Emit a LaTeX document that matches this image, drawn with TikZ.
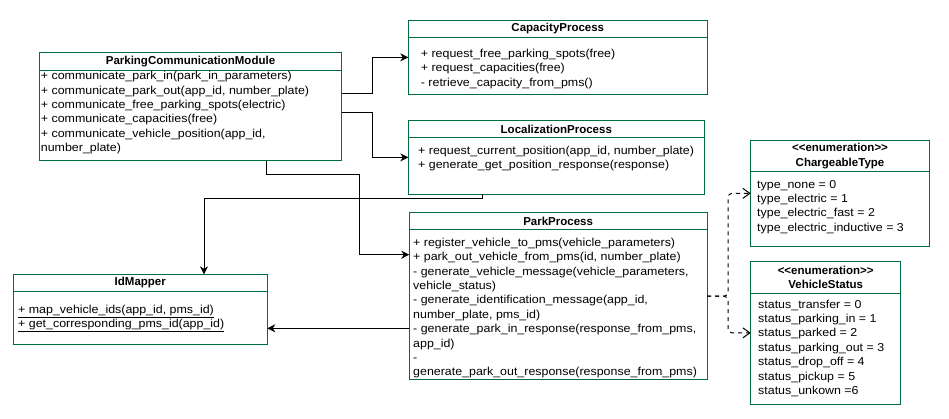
\documentclass[tikz,border=0pt]{standalone}
\usepackage{fontspec}
\setmainfont{Liberation Sans}[FakeStretch=1.08]
\newfontfamily\titlefont{Liberation Sans}
\usetikzlibrary{arrows.meta}
\definecolor{umlgreen}{RGB}{0,110,60}

\begin{document}
\begin{tikzpicture}[
        x=1pt, y=-1pt,
        font=\fontsize{11.5}{14.4}\selectfont,
        classbox/.style={rectangle, draw=umlgreen, line width=1pt, inner sep=0pt, outer sep=0pt, anchor=north west},
        classhead/.style={rectangle, draw=umlgreen, line width=1pt, inner sep=0pt, outer sep=0pt, anchor=north, align=center, font=\titlefont\fontsize{11.5}{14.4}\selectfont\bfseries},
        members/.style={inner sep=0pt, anchor=north west, align=left},
        assoc/.style={draw, line width=1pt, -{Stealth[length=8pt, width=8pt, inset=2.5pt]}},
        uses/.style={draw, line width=1pt, dash pattern=on 4pt off 4pt, rounded corners=4pt, -{Straight Barb[length=7pt, width=10pt]}}
    ]
    \useasboundingbox (0,0) rectangle (949,418);

    % classes
    \node[classbox, minimum width=302.4, minimum height=108] (pcm) at (39.3,52.7) {};
    \node[classhead, minimum width=302.4, minimum height=17.3] (pcmt) at (pcm.north) {ParkingCommunicationModule};
    \node[members] (pcmops) at (40.7,71.2) {+ communicate\_park\_in(park\_in\_parameters)\\
        + communicate\_park\_out(app\_id, number\_plate)\\
        + communicate\_free\_parking\_spots(electric)\\
        + communicate\_capacities(free)\\
        + communicate\_vehicle\_position(app\_id,\\
        number\_plate)};

    \node[classbox, minimum width=299, minimum height=73.3] (cap) at (408.3,20.7) {};
    \node[classhead, minimum width=299, minimum height=16.6] (capt) at (cap.north) {CapacityProcess};
    \node[members] (capops) at (420.7,48.8) {+ request\_free\_parking\_spots(free)\\
        + request\_capacities(free)\\
        - retrieve\_capacity\_from\_pms()};

    \node[classbox, minimum width=296, minimum height=73.3] (loc) at (408.3,120.7) {};
    \node[classhead, minimum width=296, minimum height=16.6] (loct) at (loc.north) {LocalizationProcess};
    \node[members] (locops) at (418,145.5) {+ request\_current\_position(app\_id, number\_plate)\\
        + generate\_get\_position\_response(response)};

    \node[classbox, minimum width=297.7, minimum height=167] (park) at (409.3,212.7) {};
    \node[classhead, minimum width=297.7, minimum height=16.6] (parkt) at (park.north) {ParkProcess};
    \node[members] (parkops) at (413,237.8) {+ register\_vehicle\_to\_pms(vehicle\_parameters)\\
        + park\_out\_vehicle\_from\_pms(id, number\_plate)\\
        - generate\_vehicle\_message(vehicle\_parameters,\\
        vehicle\_status)\\
        - generate\_identification\_message(app\_id,\\
        number\_plate, pms\_id)\\
        - generate\_park\_in\_response(response\_from\_pms,\\
        app\_id)\\
        -\\
        generate\_park\_out\_response(response\_from\_pms)};

    \node[classbox, minimum width=254, minimum height=69.7] (idm) at (13.3,274.3) {};
    \node[classhead, minimum width=254, minimum height=16.7] (idmt) at (idm.north) {IdMapper};
    \node[members] (idmops) at (18,304.8) {\underline{+ map\_vehicle\_ids(app\_id, pms\_id)}\\
        \underline{+ get\_corresponding\_pms\_id(app\_id)}};

    \node[classbox, minimum width=178.6, minimum height=105.3] (chg) at (750.7,140.7) {};
    \node[classhead, minimum width=178.6, minimum height=31] (chgt) at (chg.north) {\mbox{<}\mbox{<}enumeration\mbox{>}\mbox{>}\\ ChargeableType};
    \node[members] (chgvals) at (757,179.8) {type\_none = 0\\
        type\_electric = 1\\
        type\_electric\_fast = 2\\
        type\_electric\_inductive = 3};

    \node[classbox, minimum width=150, minimum height=142.3] (vst) at (750.7,261.7) {};
    \node[classhead, minimum width=150, minimum height=31.6] (vstt) at (vst.north) {\mbox{<}\mbox{<}enumeration\mbox{>}\mbox{>}\\ VehicleStatus};
    \node[members] (vstvals) at (758,299.5) {status\_transfer = 0\\
        status\_parking\_in = 1\\
        status\_parked = 2\\
        status\_parking\_out = 3\\
        status\_drop\_off = 4\\
        status\_pickup = 5\\
        status\_unkown =6};

    % connectors
    \draw[assoc] ([yshift=-40.3]pcm.north east) -- ++(30.6,0) |- (cap.west);
    \draw[assoc] ([yshift=-59.6]pcm.north east) -- ++(30.6,0) |- (loc.west);
    \draw[assoc] ([xshift=227]pcm.south west) -- ++(0,13.6) -- ++(93.4,0) |- ([yshift=-42]park.north west);
    \draw[assoc] ([xshift=74]loc.south west) -- ++(0,4.3) -| ([xshift=190.7]idm.north west);
    \coordinate (parkin) at ([yshift=-115.6]park.north west);
    \draw[assoc] (parkin) -- (parkin -| idm.east);
    \coordinate (fork) at ([xshift=21]park.east);
    \draw[uses] (park.east) -- (fork) |- (chg.west);
    \draw[uses] (park.east) -- (fork) |- (vst.west);
\end{tikzpicture}
\end{document}
